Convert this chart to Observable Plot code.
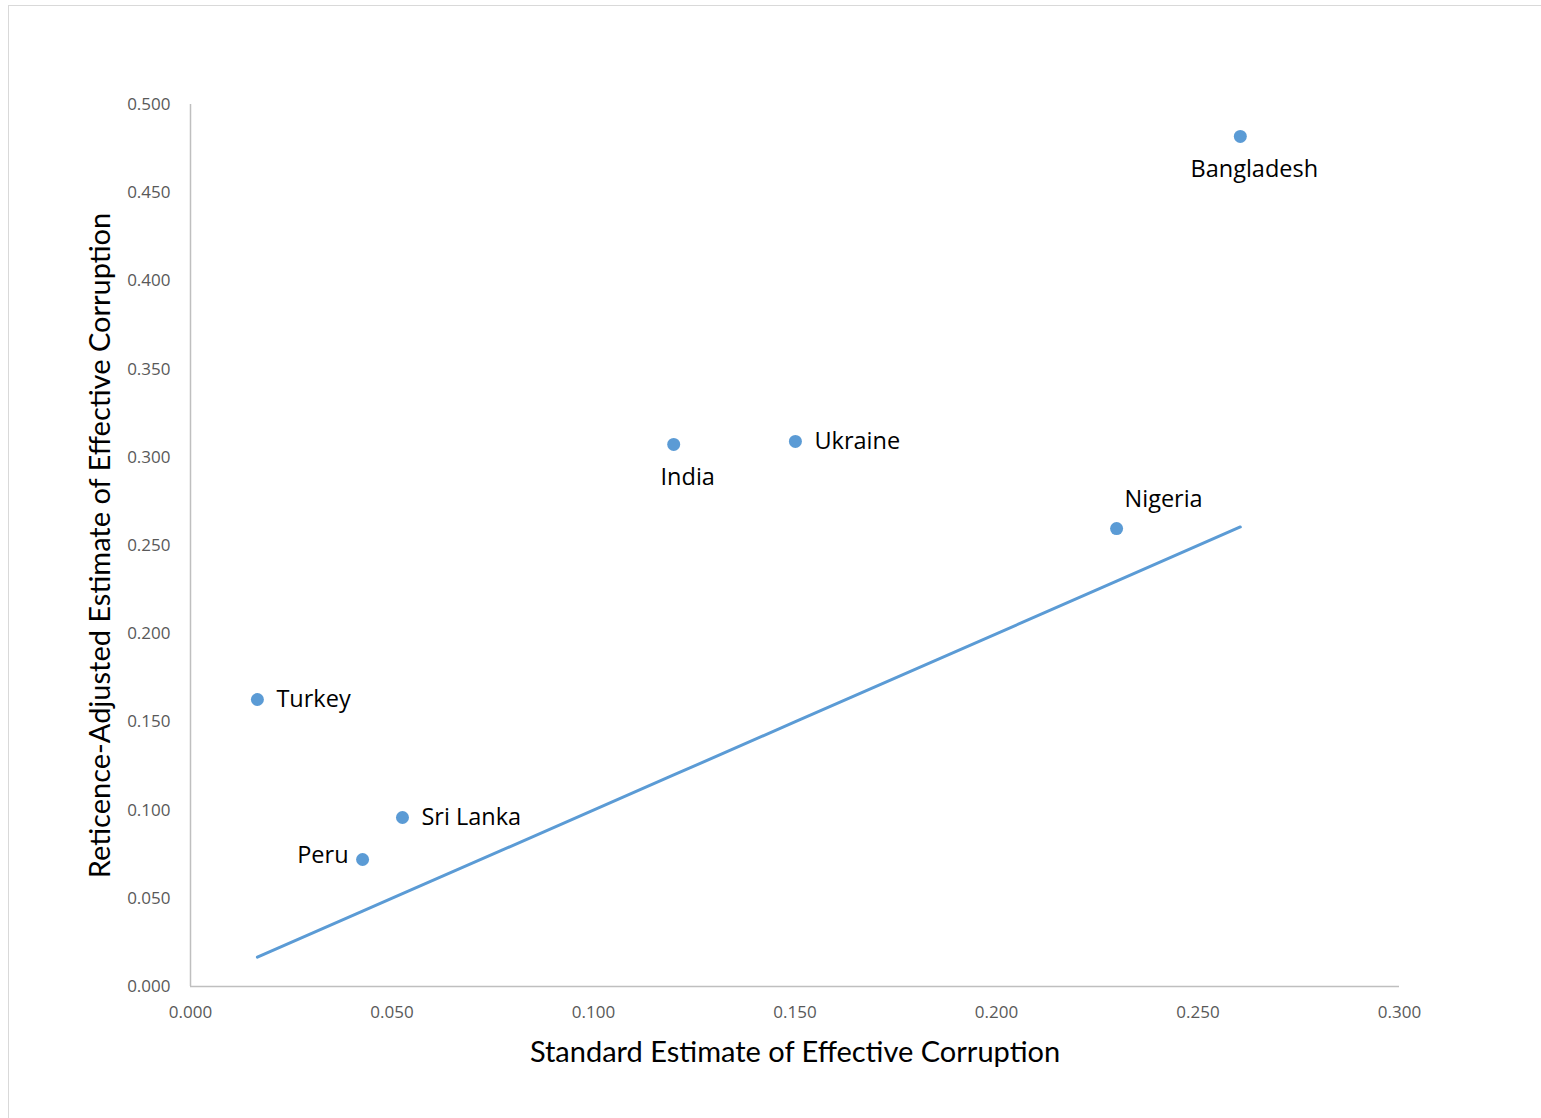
<!DOCTYPE html>
<html>
<head>
<meta charset="utf-8">
<script src="https://cdn.jsdelivr.net/npm/d3@7"></script>
<script src="https://cdn.jsdelivr.net/npm/@observablehq/plot@0.6"></script>
<style>
  html, body { margin: 0; padding: 0; background: #fff; }
  #wrap { position: relative; width: 1541px; height: 1118px; overflow: hidden; }
  #border { position: absolute; left: 8px; top: 5px; width: 1560px; height: 1130px; border: 1.5px solid #d9d9d9; box-sizing: border-box; }
  #chart { position: absolute; left: 0; top: 0; }
  svg { font-family: "Open Sans", sans-serif; }
</style>
</head>
<body>
<div id="wrap"><div id="border"></div><div id="chart"></div></div>
<script>
const countries = ["Bangladesh", "India", "Ukraine", "Nigeria", "Turkey", "Sri Lanka", "Peru"];
const standardEstimate = [0.2605, 0.1199, 0.1501, 0.2298, 0.0166, 0.0526, 0.0427];
const reticenceAdjusted = [0.4819, 0.3073, 0.3090, 0.2596, 0.1627, 0.0958, 0.0720];
const labelPlacement = ["below", "below", "right", "aboveRight", "right", "right", "left"];
const xTicks = [0, 0.05, 0.1, 0.15, 0.2, 0.25, 0.3];
const yTicks = [0, 0.05, 0.1, 0.15, 0.2, 0.25, 0.3, 0.35, 0.4, 0.45, 0.5];

const data = countries.map((c, i) => ({
  country: c, x: standardEstimate[i], y: reticenceAdjusted[i], place: labelPlacement[i]
}));
const lineData = data.slice().sort((a, b) => a.x - b.x);

const color = "#5b9bd5";
const fmt = d3.format(".3f");

const placeStyle = {
  below: {dx: 14, dy: 33, textAnchor: "middle"},
  right: {dx: 19, dy: 0, textAnchor: "start"},
  left: {dx: -14, dy: -4, textAnchor: "end"},
  aboveRight: {dx: 47, dy: -29, textAnchor: "middle"}
};
const labelMarks = Object.entries(placeStyle).map(([p, s]) =>
  Plot.text(data.filter(d => d.place === p), {
    x: "x", y: "y", text: "country", dx: s.dx, dy: s.dy, textAnchor: s.textAnchor,
    fontSize: 23.5, fill: "#000", fontFamily: "Open Sans"
  })
);

const chart = Plot.plot({
  width: 1541,
  height: 1118,
  marginLeft: 190,
  marginRight: 142,
  marginTop: 104,
  marginBottom: 132,
  style: {background: "transparent", fontFamily: "'Open Sans', sans-serif"},
  x: {domain: [0, 0.3], ticks: xTicks, tickFormat: fmt, label: null},
  y: {domain: [0, 0.5], ticks: yTicks, tickFormat: fmt, label: null},
  marks: [
    Plot.axisX({ticks: xTicks, tickFormat: fmt, tickSize: 0, tickPadding: 19, fontSize: 17, fill: "#595959", label: null}),
    Plot.axisY({ticks: yTicks, tickFormat: fmt, tickSize: 0, tickPadding: 20, fontSize: 17, fill: "#595959", label: null}),
    Plot.ruleY([0], {stroke: "#bfbfbf", strokeWidth: 1.5}),
    Plot.ruleX([0], {stroke: "#bfbfbf", strokeWidth: 1.5}),
    Plot.line(lineData, {x: "x", y: "x", stroke: color, strokeWidth: 3}),
    Plot.dot(data, {x: "x", y: "y", r: 6.5, fill: color, stroke: "none"}),
    ...labelMarks,
    Plot.text(["Standard Estimate of Effective Corruption"], {
      frameAnchor: "bottom", lineAnchor: "middle", dy: 66, text: d => d, fontSize: 29, fill: "#000", fontFamily: "Lato"
    }),
    Plot.text(["Reticence-Adjusted Estimate of Effective Corruption"], {
      frameAnchor: "left", textAnchor: "middle", lineAnchor: "middle", dx: -90, rotate: -90, text: d => d, fontSize: 29, fill: "#000", fontFamily: "Lato"
    })
  ]
});
document.getElementById("chart").appendChild(chart);
</script>
</body>
</html>
